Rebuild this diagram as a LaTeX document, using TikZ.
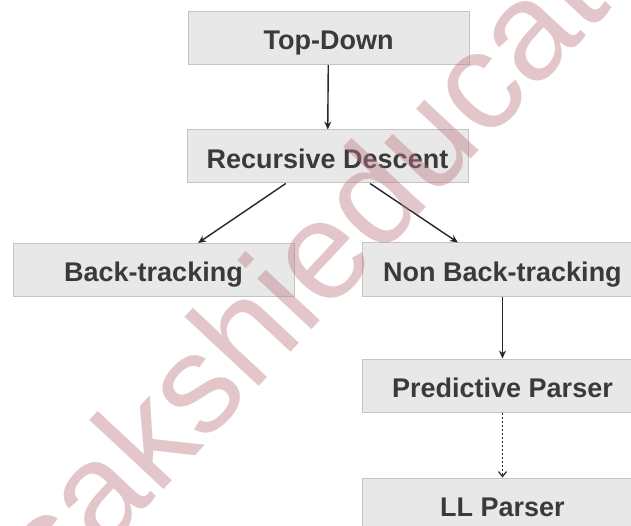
\documentclass[tikz,border=0pt]{standalone}
\usepackage{fontspec}
\setmainfont{Liberation Sans}
\usetikzlibrary{arrows.meta,calc}
\definecolor{boxfill}{RGB}{232,232,232}
\definecolor{boxline}{RGB}{196,196,196}
\definecolor{txt}{RGB}{58,58,60}
\definecolor{wm}{RGB}{190,120,128}
\tikzset{
  stepbox/.style={draw=boxline, line width=1pt, fill=boxfill, minimum width=281pt, minimum height=53pt,
    inner sep=0pt, text=txt, font=\fontsize{27}{32}\selectfont\bfseries, text height=23.4pt, text depth=0pt},
  conn/.style={draw=black!85, line width=1.4pt, -{Stealth[length=8pt,width=7pt]}},
  dconn/.style={draw=black!85, line width=1.3pt, dash pattern=on 2pt off 2pt, -{Straight Barb[length=5pt,width=8pt,line width=1.2pt]}},
}
\begin{document}
\begin{tikzpicture}[x=1pt,y=-1pt]
\useasboundingbox (0,0) rectangle (631,526);
\clip (0,0) rectangle (631,526);
\fill[white] (0,0) rectangle (631,526);
\node[stepbox] (td) at (328.5,38) {Top-Down};
\node[stepbox] (rd) at (327.5,156.5) {Recursive Descent};
\node[stepbox] (bt) at (153.5,270) {Back-tracking};
\node[stepbox] (nbt) at (502.5,269.5) {Non Back-tracking};
\node[stepbox] (pp) at (502.5,385.5) {Predictive Parser};
\node[stepbox] (ll) at (502.5,504.5) {LL Parser};
\coordinate (rdl) at ($(rd.south west)!0.352!(rd.south east)$);
\coordinate (rdr) at ($(rd.south west)!0.651!(rd.south east)$);
\coordinate (btt) at ($(bt.north west)!0.658!(bt.north east)$);
\coordinate (nbtt) at ($(nbt.north west)!0.342!(nbt.north east)$);
\draw[conn] (td) -- (rd);
\draw[conn] (rdl) -- (btt);
\draw[conn] (rdr) -- (nbtt);
\draw[conn] (nbt) -- (pp);
\draw[dconn] (pp) -- (ll);
\node[text=wm, opacity=0.42, rotate=47, font=\fontsize{140}{140}\selectfont, inner sep=0pt] (wmk) at (362,203) {sakshieducation};
\end{tikzpicture}
\end{document}
